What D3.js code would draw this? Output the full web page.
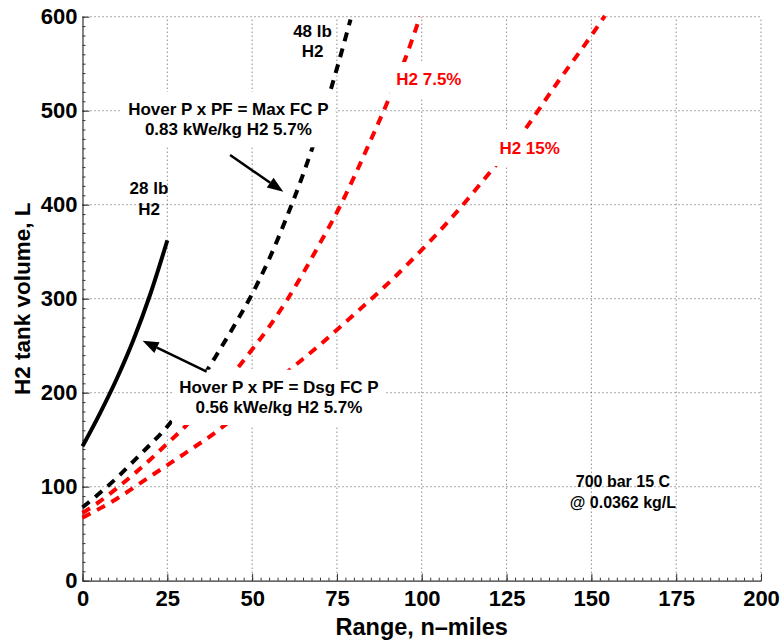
<!DOCTYPE html>
<html><head><meta charset="utf-8">
<script src="https://cdn.jsdelivr.net/npm/d3@7"></script>
<style>body{margin:0;background:#fff;} svg{display:block;font-family:"Liberation Sans",Arial,Helvetica,sans-serif;}</style>
</head><body><svg id="c" width="782" height="641"></svg>
<script>
// ---- data ----
const xTicks = [0, 25, 50, 75, 100, 125, 150, 175, 200];
const yTicks = [0, 100, 200, 300, 400, 500, 600];
const dsg28X = [0, 5, 10, 15, 20, 25];
const dsg28Y = [143, 177, 214, 256, 305, 362];
const maxFcX = [0, 5, 10, 15, 20, 25, 30, 35, 40, 45, 50, 55, 60, 65, 70, 75, 79];
const maxFcY = [78, 93, 109, 127, 145, 164, 188, 214, 243, 273, 305, 342, 385, 432, 485, 545, 597];
const h2p75X = [0, 5, 10, 15, 20, 25, 30, 35, 40, 45, 50, 55, 60, 65, 70, 75, 80, 85, 90, 95, 99.5];
const h2p75Y = [72, 84, 98, 113, 129, 146, 163, 182, 202, 223, 246, 270, 297, 327, 359, 392, 429, 469, 510, 554, 600];
const h2p15X = [0, 10, 20, 30, 40, 50, 60, 70, 80, 90, 100, 110, 120, 130, 140, 150, 154];
const h2p15Y = [67, 87, 111, 135, 160, 190, 221, 251, 283, 316, 352, 391, 434, 478, 530, 580, 601];

const seriesList = [
  {xs: maxFcX, ys: maxFcY, color: "#000000", dashed: true},
  {xs: h2p75X, ys: h2p75Y, color: "#ff0000", dashed: true},
  {xs: h2p15X, ys: h2p15Y, color: "#ff0000", dashed: true},
  {xs: dsg28X, ys: dsg28Y, color: "#000000", dashed: false}
];

const annotations = [
  {x: 43.0, y: 495.4, lines: ["Hover P x PF = Max FC P", "0.83 kWe/kg H2 5.7%"], color: "#000", box: true},
  {x: 57.9, y: 200.0, lines: ["Hover P x PF = Dsg FC P", "0.56 kWe/kg H2 5.7%"], color: "#000", box: true},
  {x: 19.6, y: 411.0, lines: ["28 lb", "H2"], color: "#000", box: false},
  {x: 67.8, y: 578.7, lines: ["48 lb", "H2"], color: "#000", box: false},
  {x: 102.1, y: 527.3, lines: ["H2 7.5%"], color: "#ff0000", box: true},
  {x: 131.8, y: 453.9, lines: ["H2 15%"], color: "#ff0000", box: true},
  {x: 159.3, y: 99.4, lines: ["700 bar 15 C", "@ 0.0362 kg/L"], color: "#000", box: false, small: true}
];
const arrows = [
  {x1: 43.5, y1: 452.8, x2: 59.2, y2: 413.8},
  {x1: 36.6, y1: 222.3, x2: 17.7, y2: 255.3}
];

// ---- chart ----
const svg = d3.select("#c");
const x = d3.scaleLinear().domain([0, 200]).range([82.5, 761]);
const y = d3.scaleLinear().domain([0, 600]).range([580.7, 16.7]);

// grid
const grid = svg.append("g");
grid.selectAll("line.gx").data(xTicks.slice(1)).enter().append("line")
  .attr("x1", d => x(d)).attr("x2", d => x(d)).attr("y1", y(0)).attr("y2", y(600))
  .attr("stroke", "#555").attr("stroke-width", 1).attr("stroke-dasharray", "1,3");
grid.selectAll("line.gy").data(yTicks.slice(1)).enter().append("line")
  .attr("x1", x(0)).attr("x2", x(200)).attr("y1", d => y(d)).attr("y2", d => y(d))
  .attr("stroke", "#555").attr("stroke-width", 1).attr("stroke-dasharray", "1,3");

// axes
const xMinor = d3.range(0, 200.01, 2.5);
const yMinor = d3.range(0, 600.01, 10);
const axX = svg.append("g").attr("transform", `translate(0,${y(0)})`);
axX.call(d3.axisBottom(x).tickValues(xMinor).tickSize(-3).tickFormat(""));
axX.call(g => g.select(".domain").remove());
const axX2 = svg.append("g").attr("transform", `translate(0,${y(0)})`);
axX2.call(d3.axisBottom(x).tickValues(xTicks).tickSize(-7).tickPadding(10).tickSizeOuter(0).tickFormat(d3.format("d")));
const axY = svg.append("g").attr("transform", `translate(${x(0)},0)`);
axY.call(d3.axisLeft(y).tickValues(yMinor).tickSize(-3).tickFormat(""));
axY.call(g => g.select(".domain").remove());
const axY2 = svg.append("g").attr("transform", `translate(${x(0)},0)`);
axY2.call(d3.axisLeft(y).tickValues(yTicks).tickSize(-7).tickPadding(5).tickSizeOuter(0).tickFormat(d3.format("d")));
svg.selectAll(".tick line").attr("stroke", "#333");
svg.selectAll(".domain").attr("stroke", "#333").attr("stroke-width", 1.2);
svg.selectAll(".tick text").attr("font-size", 22).attr("font-weight", "bold").attr("fill", "#000")
  .attr("font-family", '"Liberation Sans",Arial,sans-serif');

// axis labels
svg.append("text").attr("x", (x(0) + x(200)) / 2).attr("y", 635).attr("text-anchor", "middle")
  .attr("font-size", 23.5).attr("font-weight", "bold").text("Range, n\u2013miles");
svg.append("text").attr("transform", `translate(30,${(y(0) + y(600)) / 2}) rotate(-90)`).attr("text-anchor", "middle")
  .attr("font-size", 22.5).attr("font-weight", "bold").text("H2 tank volume, L");

// series
const line = d3.line().x(d => x(d[0])).y(d => y(d[1])).curve(d3.curveMonotoneX);
seriesList.forEach(s => {
  const pts = s.xs.map((v, i) => [v, s.ys[i]]);
  svg.append("path").attr("d", line(pts)).attr("fill", "none")
    .attr("stroke", s.color).attr("stroke-width", 4)
    .attr("stroke-dasharray", s.dashed ? "9,7.5" : null);
});

// annotations
annotations.forEach(a => {
  const g = svg.append("g");
  const fs = a.small ? 16 : 17;
  const t = g.append("text").attr("x", x(a.x)).attr("y", y(a.y)).attr("text-anchor", "middle")
    .attr("font-size", fs).attr("font-weight", "bold").attr("fill", a.color);
  a.lines.forEach((ln, i) => {
    t.append("tspan").attr("x", x(a.x)).attr("dy", i === 0 ? 0 : 20.3).text(ln);
  });
  if (a.box) {
    const bb = t.node().getBBox();
    g.insert("rect", "text").attr("x", bb.x - 7).attr("y", bb.y - 8)
      .attr("width", bb.width + 14).attr("height", bb.height + 16).attr("fill", "#fff");
  }
});

// arrows
arrows.forEach(a => {
  const x1 = x(a.x1), y1 = y(a.y1), x2 = x(a.x2), y2 = y(a.y2);
  const ang = Math.atan2(y2 - y1, x2 - x1);
  const L = 16, W = 6;
  const bx = x2 - L * Math.cos(ang), by = y2 - L * Math.sin(ang);
  svg.append("line").attr("x1", x1).attr("y1", y1).attr("x2", bx).attr("y2", by)
    .attr("stroke", "#000").attr("stroke-width", 2.5);
  const px = -Math.sin(ang) * W, py = Math.cos(ang) * W;
  svg.append("path").attr("d", `M${x2},${y2}L${bx + px},${by + py}L${bx - px},${by - py}Z`).attr("fill", "#000");
});
</script></body></html>
